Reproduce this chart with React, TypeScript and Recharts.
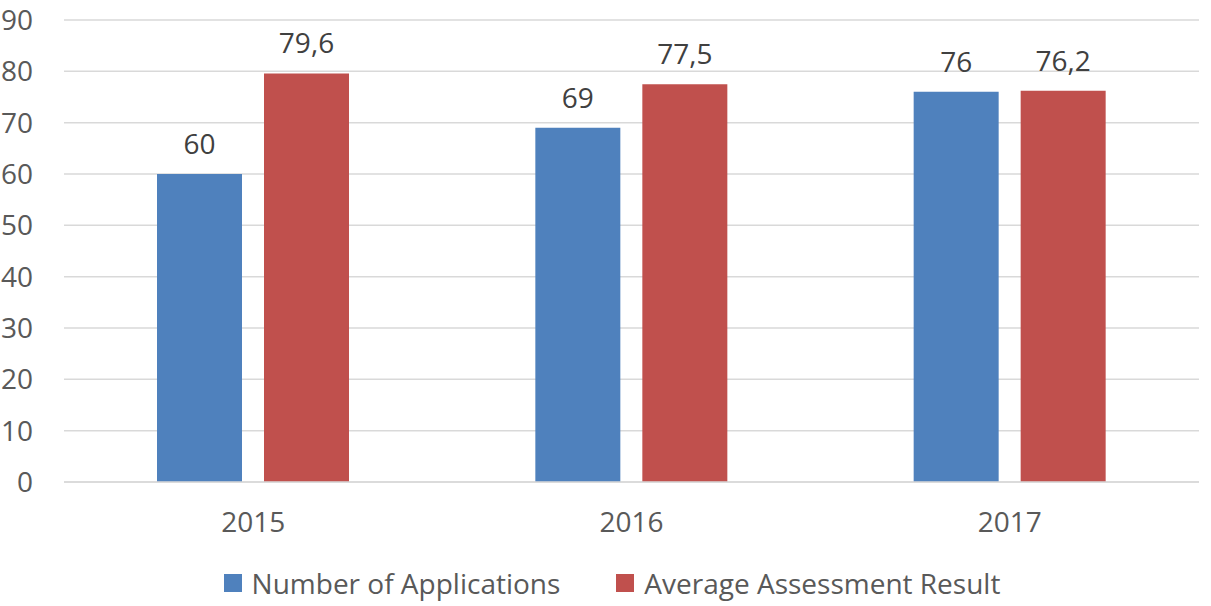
import React from "react";
import { BarChart, Bar, XAxis, YAxis, CartesianGrid, Legend, LabelList } from "recharts";

const years = ["2015", "2016", "2017"];
const applications = [60, 69, 76];
const assessment = [79.6, 77.5, 76.2];
const yTicks = [0, 10, 20, 30, 40, 50, 60, 70, 80, 90];

const seriesNames = ["Number of Applications", "Average Assessment Result"];
const colors = ["#4F81BD", "#C0504D"];

const data = years.map((y, i) => ({ year: y, apps: applications[i], avg: assessment[i] }));

const FONT = "'Open Sans', sans-serif";
const FS = 28;
const fmt = (v: any) => String(v).replace(".", ",");

const LegendContent = () => (
  <div
    style={{
      height: 60,
      display: "flex",
      justifyContent: "center",
      alignItems: "center",
      paddingTop: 14,
      boxSizing: "border-box",
      fontFamily: FONT,
      fontSize: FS,
      color: "#595959",
      marginLeft: 25,
    }}
  >
    {seriesNames.map((n, i) => (
      <div key={n} style={{ display: "flex", alignItems: "center", marginRight: i === 0 ? 56 : 0 }}>
        <div style={{ width: 18, height: 18, background: colors[i], marginRight: 10 }} />
        <span>{n}</span>
      </div>
    ))}
  </div>
);

export default function App() {
  return (
    <div style={{ position: "absolute", left: 0, top: 0, background: "#fff" }}>
      <BarChart
        width={1211}
        height={606}
        data={data}
        margin={{ top: 20, right: 12, left: 0, bottom: 0 }}
        barGap={22}
        barCategoryGap={93}
      >
        <CartesianGrid vertical={false} stroke="#D9D9D9" strokeWidth={1.5} />
        <XAxis
          dataKey="year"
          axisLine={{ stroke: "#D9D9D9", strokeWidth: 1.5 }}
          tickLine={false}
          tickSize={0}
          tickMargin={30}
          height={64}
          tick={{ fill: "#595959", fontSize: FS, fontFamily: FONT }}
        />
        <YAxis
          domain={[0, 90]}
          ticks={yTicks}
          axisLine={false}
          tickLine={false}
          tickSize={0}
          tickMargin={31}
          width={64}
          tick={{ fill: "#595959", fontSize: FS, fontFamily: FONT }}
        />
        <Legend verticalAlign="bottom" content={<LegendContent />} />
        <Bar dataKey="apps" name={seriesNames[0]} fill={colors[0]} isAnimationActive={false}>
          <LabelList dataKey="apps" position="top" offset={20} formatter={fmt} fill="#404040" fontSize={FS} fontFamily={FONT} />
        </Bar>
        <Bar dataKey="avg" name={seriesNames[1]} fill={colors[1]} isAnimationActive={false}>
          <LabelList dataKey="avg" position="top" offset={20} formatter={fmt} fill="#404040" fontSize={FS} fontFamily={FONT} />
        </Bar>
      </BarChart>
    </div>
  );
}
